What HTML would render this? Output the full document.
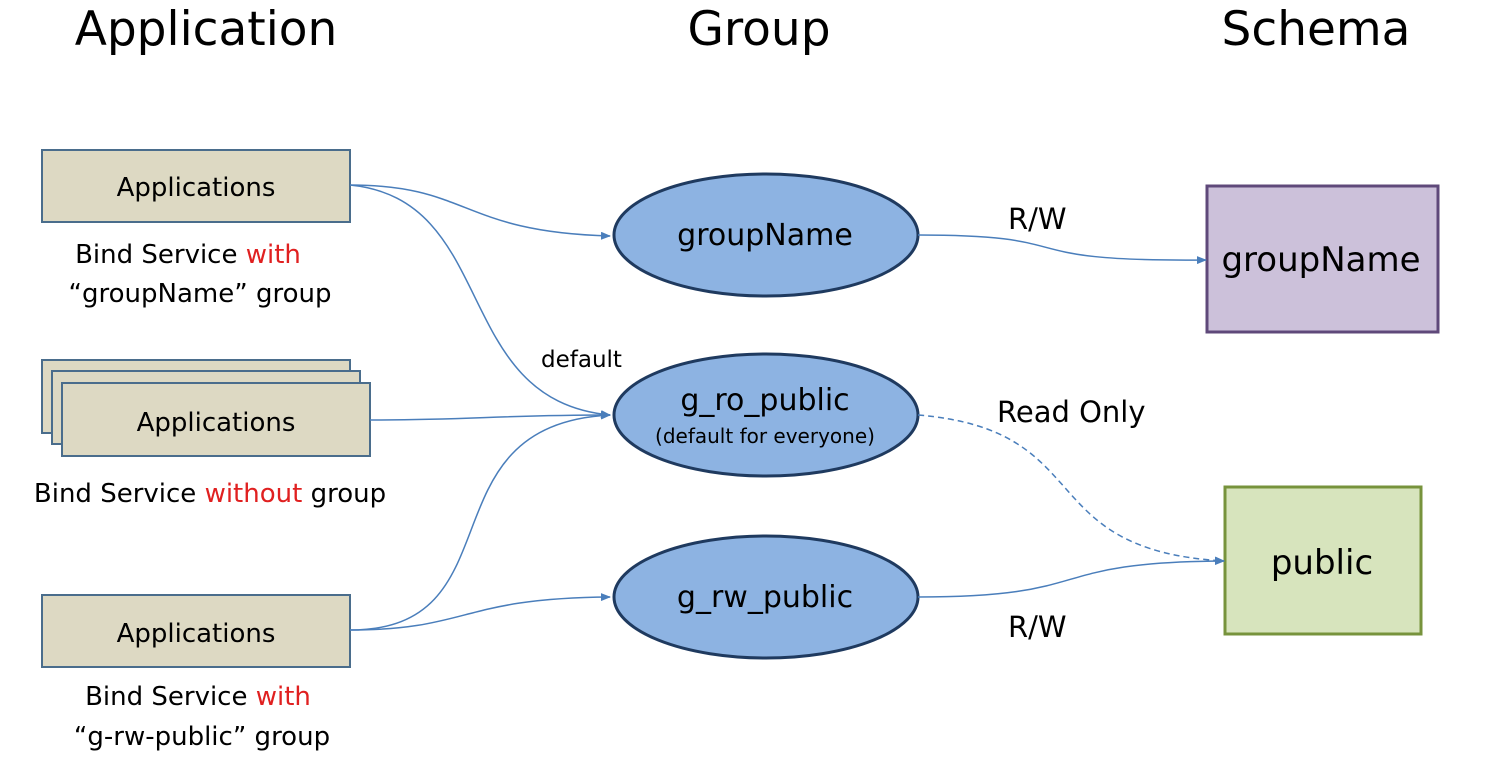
<!DOCTYPE html>
<html><head><meta charset="utf-8"><style>
html,body{margin:0;padding:0;background:#fff;}
svg{display:block;font-family:"DejaVu Sans","Liberation Sans",sans-serif;}
</style></head><body>
<svg width="1502" height="762" viewBox="0 0 1502 762" xmlns="http://www.w3.org/2000/svg">
<defs><marker id="a" markerWidth="10" markerHeight="8" refX="9" refY="4" orient="auto" markerUnits="userSpaceOnUse"><path d="M0,0 L10,4 L0,8 z" fill="#4a7ebb"/></marker></defs>
<g font-size="47" fill="#000" text-anchor="middle">
<text x="206" y="45">Application</text>
<text x="759" y="45">Group</text>
<text x="1316" y="45">Schema</text>
</g>
<g fill="#ddd9c3" stroke="#4a6d8c" stroke-width="2">
<rect x="42" y="150" width="308" height="72"/>
<rect x="42" y="360" width="308" height="73"/>
<rect x="52" y="371" width="308" height="73"/>
<rect x="62" y="383" width="308" height="73"/>
<rect x="42" y="595" width="308" height="72"/>
</g>
<g font-size="26" text-anchor="middle" fill="#000">
<text x="196" y="196">Applications</text>
<text x="216" y="431">Applications</text>
<text x="196" y="642">Applications</text>
<text x="188" y="263">Bind Service <tspan fill="#e02020">with</tspan></text>
<text x="200" y="302">“groupName” group</text>
<text x="210" y="502">Bind Service <tspan fill="#e02020">without</tspan> group</text>
<text x="198" y="705">Bind Service <tspan fill="#e02020">with</tspan></text>
<text x="202" y="745">“g-rw-public” group</text>
</g>
<g fill="#8db3e2" stroke="#1f3a5f" stroke-width="3">
<ellipse cx="766" cy="235" rx="152" ry="61"/>
<ellipse cx="766" cy="415" rx="152" ry="61"/>
<ellipse cx="766" cy="597" rx="152" ry="61"/>
</g>
<rect x="1207" y="186" width="231" height="146" fill="#ccc1da" stroke="#5f497a" stroke-width="3"/>
<rect x="1225" y="487" width="196" height="147" fill="#d7e4bd" stroke="#77933c" stroke-width="3"/>
<g font-size="30" text-anchor="middle" fill="#000">
<text x="765" y="245">groupName</text>
<text x="765" y="410">g_ro_public</text>
<text x="765" y="607">g_rw_public</text>
</g>
<g font-size="34" text-anchor="middle" fill="#000">
<text x="1321" y="271">groupName</text>
<text x="1322" y="574">public</text>
</g>
<text x="765" y="443" font-size="20" text-anchor="middle">(default for everyone)</text>
<g font-size="29" fill="#000">
<text x="1008" y="229">R/W</text>
<text x="997" y="422">Read Only</text>
<text x="1008" y="637">R/W</text>
</g>
<text x="541" y="367" font-size="23">default</text>
<g fill="none" stroke="#4a7ebb" stroke-width="1.5">
<path d="M350,185 C470,185 460,232 610,236" marker-end="url(#a)"/>
<path d="M350,185 C500,200 450,400 610,415" marker-end="url(#a)"/>
<path d="M370,420 C470,420 500,415 610,415" marker-end="url(#a)"/>
<path d="M350,630 C520,630 420,425 610,415" marker-end="url(#a)"/>
<path d="M350,630 C470,630 460,598 610,597" marker-end="url(#a)"/>
<path d="M918,235 C1090,235 1000,262 1206,260" marker-end="url(#a)"/>
<path d="M918,597 C1100,597 1040,562 1224,561" marker-end="url(#a)"/>
<path d="M918,415 C1100,430 1030,550 1224,561" stroke-dasharray="6,4" marker-end="url(#a)"/>
</g>
</svg>
</body></html>
